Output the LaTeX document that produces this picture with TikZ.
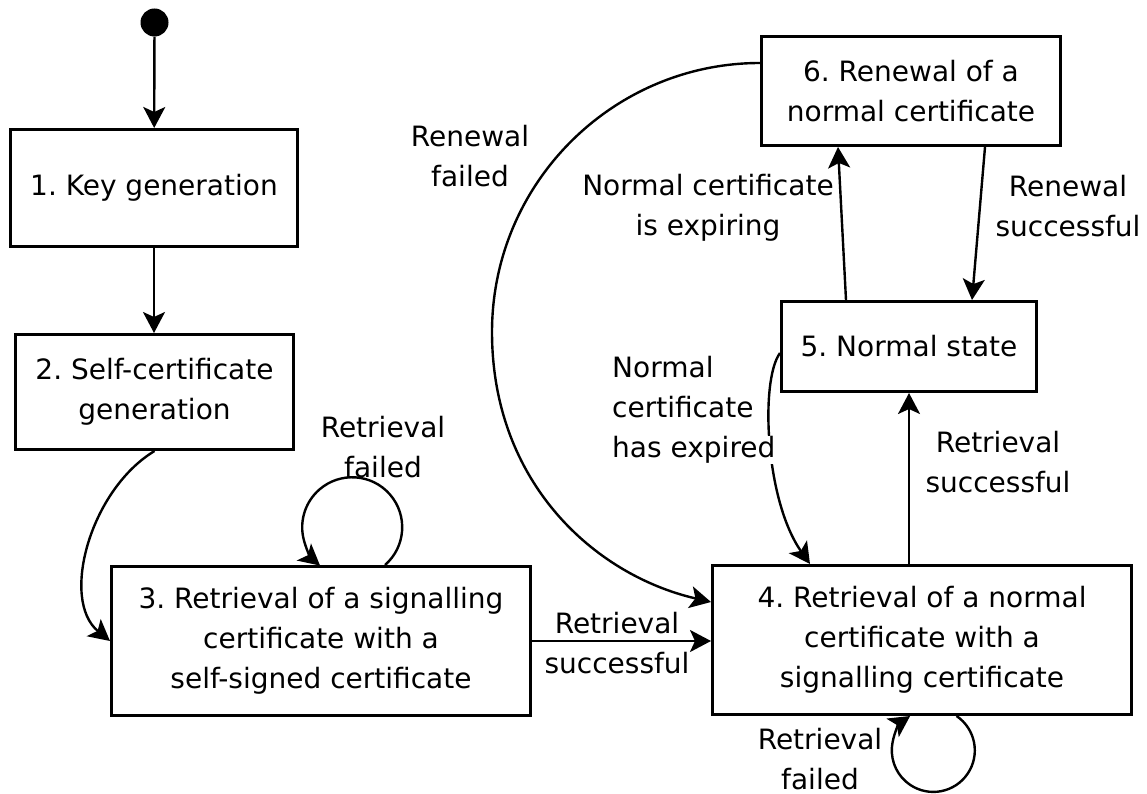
\documentclass[tikz,border=0pt]{standalone}
\usepackage{fontspec}
\setmainfont{DejaVu Sans}
\usetikzlibrary{arrows.meta}
\setlength{\fboxsep}{0pt}
\frenchspacing
\begin{document}
\begin{tikzpicture}[x=1pt,y=1pt,
  every node/.style={font=\fontsize{28}{40}\selectfont},
  box/.style={draw, line width=3pt, inner sep=0pt, align=center},
  lbl/.style={align=center, inner sep=0pt},
  arr/.style={line width=2.4pt, -{Stealth[length=21pt,width=22pt,inset=5pt]}}]
\fill[white] (0,0) rectangle (1147,-794);
\useasboundingbox (0,0) rectangle (1147,-794);

% initial state
\node[circle, fill=black, inner sep=0pt, minimum size=28pt] (start) at (154.5,-22.5) {};

% states
\node[box, minimum width=287pt, minimum height=117pt] (k1) at (154,-188) {1. Key generation};
\node[box, minimum width=278pt, minimum height=115pt] (k2) at (154.5,-392) {2. Self-certificate\\generation};
\node[box, minimum width=419pt, minimum height=149pt] (k3) at (321,-641) {3. Retrieval of a signalling\\certificate with a\\self-signed certificate};
\node[box, minimum width=419pt, minimum height=149pt] (k4) at (922,-640) {4. Retrieval of a normal\\certificate with a\\signalling certificate};
\node[box, minimum width=255pt, minimum height=90pt] (k5) at (909,-346.5) {5. Normal state};
\node[box, minimum width=299pt, minimum height=109pt] (k6) at (911,-91) {6. Renewal of a\\normal certificate};

% transitions
\draw[arr] (start) -- (k1);
\draw[arr] (k1.south) -- (k1.south |- k2.north);
\draw[arr] (k2.south) .. controls (90,-490) and (60,-600) .. (k3.west);
\draw[arr] ([xshift=64pt]k3.north) arc[start angle=-49, end angle=230, radius=50];
\draw[arr] (k3.east) -- (k3.east -| k4.west);
\draw[arr] ([xshift=34.5pt]k4.south) arc[start angle=56, end angle=-236, radius=41.5];
\draw[arr] (k5.south |- k4.north) -- (k5.south);
\draw[arr] ([xshift=-63pt]k5.north) -- ([xshift=-73pt]k6.south);
\draw[arr] ([xshift=74pt]k6.south) -- ([xshift=63pt]k5.north);
\coordinate (rfbend) at (492,-332);
\draw[arr] ([yshift=28pt]k6.west) .. controls (613,-63) and (492,-183) .. (rfbend)
  .. controls (492,-482) and (594,-575) .. ([yshift=38pt]k4.west);
\draw[arr] ([yshift=-6.5pt]k5.west) .. controls (760,-380) and (765,-500) .. ([xshift=-112pt]k4.north);

% transition labels
\node[lbl] (l1) at (470,-156) {Renewal\\failed};
\node[lbl] (l2) at (383,-447) {Retrieval\\failed};
\node[lbl] (l3) at (617,-643) {Retrieval\\successful};
\node[lbl] (l4) at (998,-462) {Retrieval\\successful};
\node[lbl] (l5) at (708,-208) {Normal certificate\\is expiring};
\node[lbl] (l6) at (1068,-206) {Renewal\\successful};
\node[lbl, align=left, anchor=west] (l7) at (612,-410) {Normal\\certificate\\\colorbox{white}{has expired}};
\node[lbl] (l8) at (820,-759) {Retrieval\\failed};
\end{tikzpicture}
\end{document}
